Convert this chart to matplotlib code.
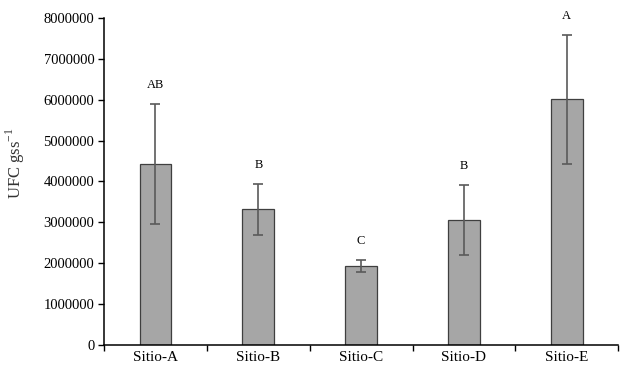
import matplotlib
matplotlib.use("Agg")
from matplotlib import pyplot as plt
from matplotlib.ticker import FixedLocator
import numpy as np

sites = ['Sitio-A', 'Sitio-B', 'Sitio-C', 'Sitio-D', 'Sitio-E']
ufc = [4420000, 3320000, 1930000, 3060000, 6010000]
err = [1470000, 620000, 140000, 850000, 1580000]
letters = ['AB', 'B', 'C', 'B', 'A']

plt.rcParams['font.family'] = ['Liberation Serif', 'DejaVu Serif']

fig = plt.figure(figsize=(6.27, 3.8), dpi=100)
ax = fig.add_axes([0.166, 0.092, 0.82, 0.861])

x = np.arange(len(sites))
ax.bar(x, ufc, width=0.31, color='#a6a6a6', edgecolor='#3f3f3f', linewidth=0.9,
       yerr=err, error_kw=dict(ecolor='#5a5a5a', elinewidth=1.2, capsize=3.5, capthick=1.2))

# letters above the error bars
for i in range(len(sites)):
    ax.text(x[i], ufc[i] + err[i] + 320000, letters[i], ha='center', va='bottom', fontsize=9)

ax.set_xlim(-0.5, len(sites) - 0.5)
ax.set_ylim(0, 8000000)
ax.set_yticks(np.arange(0, 8000001, 1000000))
ax.set_yticklabels([str(v) for v in range(0, 8000001, 1000000)])
ax.set_xticks(x)
ax.set_xticklabels(sites)
ax.xaxis.set_minor_locator(FixedLocator(np.arange(-0.5, len(sites), 1.0)))
ax.tick_params(axis='x', which='major', length=0, pad=4, labelsize=11)
ax.tick_params(axis='x', which='minor', length=4, width=1)
ax.tick_params(axis='y', length=4, width=1, labelsize=10.5, pad=3)

ax.spines['top'].set_visible(False)
ax.spines['right'].set_visible(False)
ax.spines['left'].set_linewidth(1.1)
ax.spines['bottom'].set_linewidth(1.1)

ax.set_ylabel(r'UFC gss$^{\mathregular{-1}}$', fontsize=12, color='#333333')
ax.yaxis.set_label_coords(-0.15, 0.557)

fig.savefig('out.png', dpi=100)
